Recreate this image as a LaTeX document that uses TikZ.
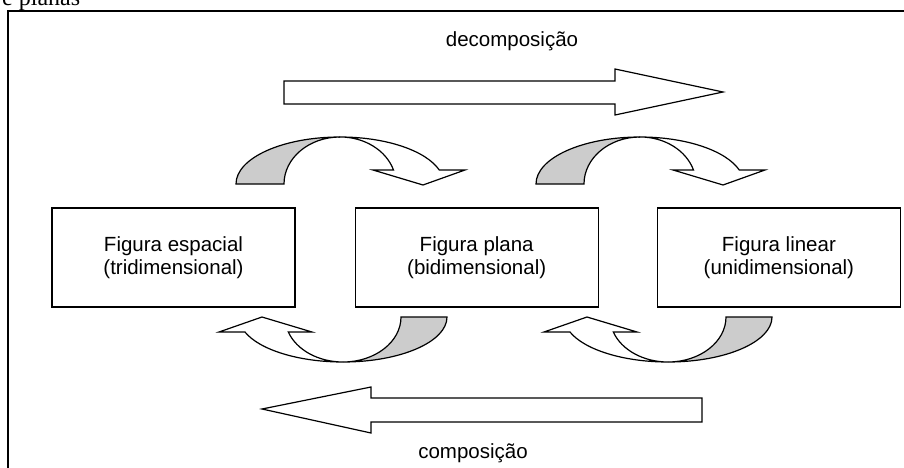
\documentclass[tikz,border=0pt]{standalone}
\usepackage{fontspec}
\setmainfont{Liberation Sans}
\newfontfamily\captionserif{Liberation Serif}
\usetikzlibrary{positioning}

\begin{document}
\begin{tikzpicture}[x=1pt,y=1pt,
	figbox/.style={draw,line width=1.2pt,minimum width=243pt,minimum height=99pt,align=center,
		font=\fontsize{20.5}{23.5}\selectfont},
	flowtext/.style={font=\fontsize{20.5}{23.5}\selectfont,inner sep=0pt},
	bigarrow/.style={draw,line width=1.2pt,fill=white,line join=miter},
	backband/.style={draw,line width=1.2pt,fill=gray!40,line join=miter},
	frontband/.style={draw,line width=1.2pt,fill=white,line join=miter}]
		\useasboundingbox (0,0) rectangle (904,467);
		\clip (0,0) rectangle (904,467);
		% caption cut off at the top and outer frame
		\node[anchor=base west,inner sep=0pt,font=\captionserif\fontsize{24}{28}\selectfont] (caption) at (2,461) {e planas};
		\draw[line width=1.5pt] (8,-20) rectangle (940,456);
		% the three figures
		\node[figbox] (espacial) at (173.5,209.5) {Figura espacial\\(tridimensional)};
		\node[figbox,right=59pt of espacial] (plana) {Figura plana\\(bidimensional)};
		\node[figbox,right=58pt of plana] (linear) {Figura linear\\(unidimensional)};
		% long arrows
		\draw[bigarrow] (284,386) -- (615,386) -- (615,398) -- (723,375) -- (615,352) -- (615,363) -- (284,363) -- cycle;
		\node[flowtext,anchor=base] (decomp) at (512,420) {decomposição};
		\draw[bigarrow] (262,58) -- (371,80) -- (371,69) -- (702,69) -- (702,45) -- (371,45) -- (371,34) -- cycle;
		\node[flowtext,anchor=base] (comp) at (473,9) {composição};
		% curved arrows above
		\foreach \dx in {0,300}{
			\begin{scope}[xshift=\dx pt]
				\draw[backband] (236,283) arc[start angle=180,end angle=90,x radius=104,y radius=47]
					arc[start angle=90,end angle=180,x radius=56,y radius=47] -- cycle;
				\draw[frontband] (340,330) arc[start angle=90,end angle=17.3,x radius=104,y radius=47]
					-- (465,297) -- (423,282) -- (373,297) -- (393.5,297)
					arc[start angle=17.3,end angle=90,x radius=56,y radius=47] -- cycle;
			\end{scope}
		}
		% curved arrows below
		\foreach \dx in {0,325}{
			\begin{scope}[xshift=\dx pt]
				\draw[backband] (447,150) arc[start angle=0,end angle=-90,x radius=104,y radius=45]
					arc[start angle=-90,end angle=0,x radius=58,y radius=45] -- cycle;
				\draw[frontband] (343,105) arc[start angle=-90,end angle=-160.53,x radius=104,y radius=45]
					-- (219,135) -- (262,150) -- (312,135) -- (288.3,135)
					arc[start angle=-160.53,end angle=-90,x radius=58,y radius=45] -- cycle;
			\end{scope}
		}
\end{tikzpicture}
\end{document}
